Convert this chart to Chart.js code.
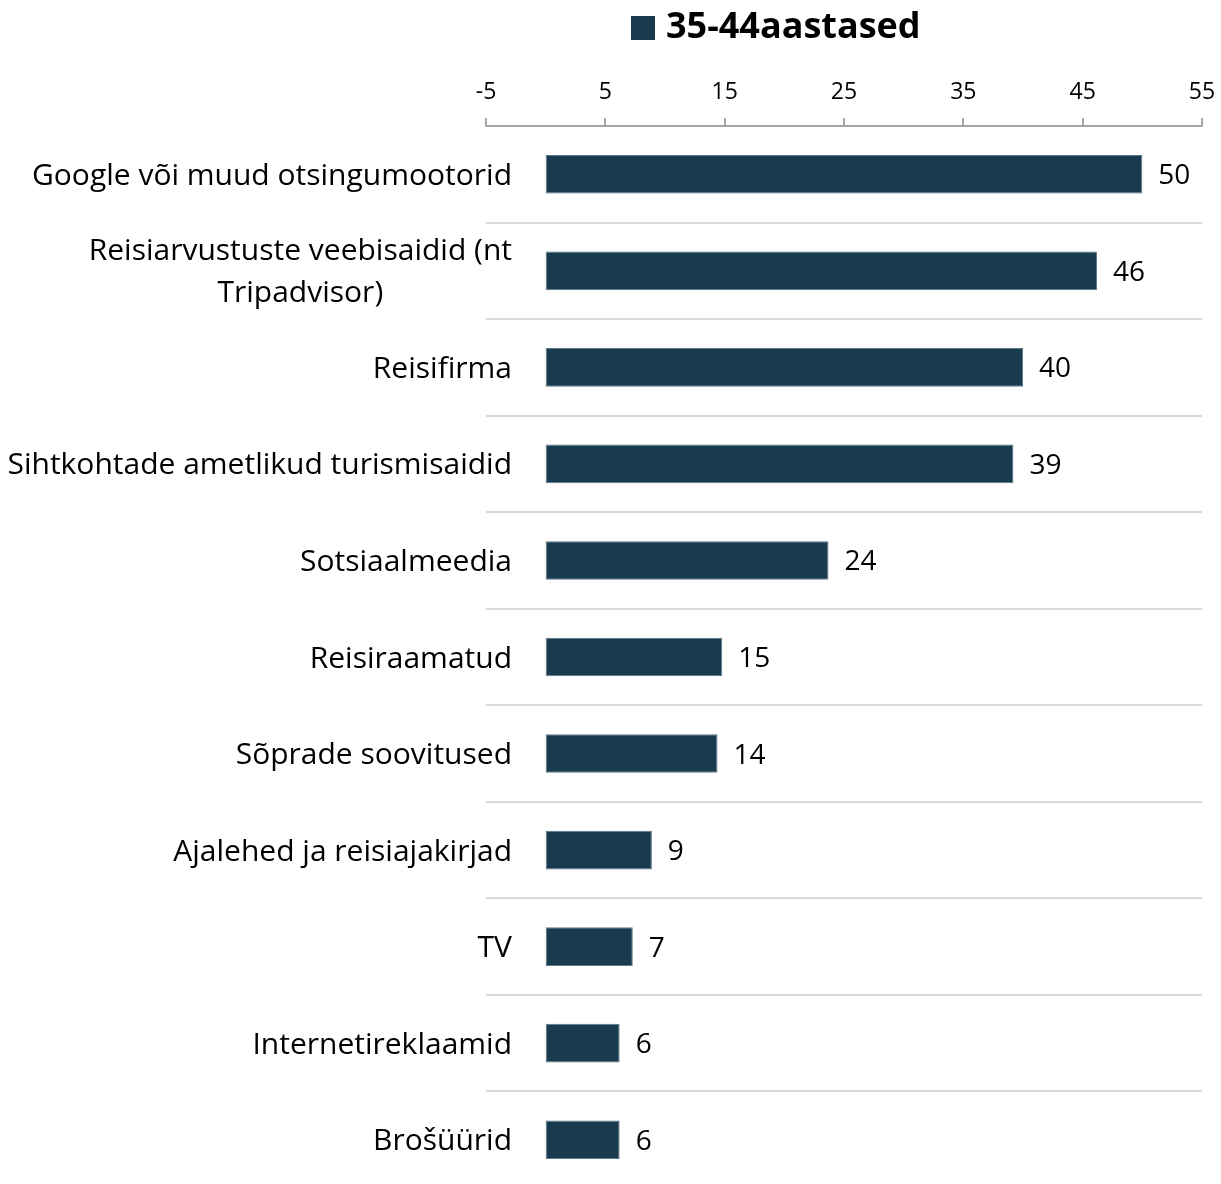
<!DOCTYPE html>
<html>
<head>
<meta charset="utf-8">
<script src="https://cdn.jsdelivr.net/npm/chart.js"></script>
<style>
    html, body { margin: 0; padding: 0; background: #fff; overflow: hidden; }
    #wrap { width: 1221px; height: 1188px; position: relative; }
</style>
</head>
<body>
<div id="wrap"><canvas id="chart"></canvas></div>
<script>
    const CATEGORIES = [
        "Google või muud otsingumootorid",
        ["Reisiarvustuste veebisaidid (nt", "Tripadvisor)"],
        "Reisifirma",
        "Sihtkohtade ametlikud turismisaidid",
        "Sotsiaalmeedia",
        "Reisiraamatud",
        "Sõprade soovitused",
        "Ajalehed ja reisiajakirjad",
        "TV",
        "Internetireklaamid",
        "Brošüürid"
    ];
    const SERIES_LABEL = "35-44aastased";
    const VALUES = [50, 46.2, 40, 39.2, 23.7, 14.8, 14.4, 8.9, 7.3, 6.2, 6.2];
    const X_TICKS = [-5, 5, 15, 25, 35, 45, 55];

    const BAR_COLOR = "#183b4f";
    const FONT = "'Open Sans', 'Noto Sans', sans-serif";

    // category names, right aligned block, lines centred inside the block
    const categoryLabels = {
        id: "categoryLabels",
        afterDraw(chart) {
            const ctx = chart.ctx;
            const y = chart.scales.y;
            const right = chart.chartArea.left + 26;
            ctx.save();
            ctx.font = "30px " + FONT;
            ctx.fillStyle = "#000";
            ctx.textBaseline = "middle";
            ctx.textAlign = "center";
            CATEGORIES.forEach((lab, i) => {
                const lines = Array.isArray(lab) ? lab : [lab];
                const w = Math.max(...lines.map(l => ctx.measureText(l).width));
                const cy = y.getPixelForTick(i) + 2;
                const lh = 42;
                lines.forEach((l, k) => {
                    ctx.fillText(l, right - w / 2, cy + (k - (lines.length - 1) / 2) * lh);
                });
            });
            ctx.restore();
        }
    };

    const valueLabels = {
        id: "valueLabels",
        afterDatasetsDraw(chart) {
            const ctx = chart.ctx;
            const meta = chart.getDatasetMeta(0);
            ctx.save();
            ctx.font = "28px " + FONT;
            ctx.fillStyle = "#000";
            ctx.textBaseline = "middle";
            ctx.textAlign = "left";
            meta.data.forEach((bar, i) => {
                ctx.fillText(String(Math.round(VALUES[i])), bar.x + 16, bar.y + 2);
            });
            ctx.restore();
        }
    };

    const topLegend = {
        id: "topLegend",
        afterDraw(chart) {
            const ctx = chart.ctx;
            ctx.save();
            ctx.fillStyle = BAR_COLOR;
            ctx.fillRect(631, 16, 24, 24);
            ctx.font = "bold 36px " + FONT;
            ctx.fillStyle = "#000";
            ctx.textBaseline = "middle";
            ctx.fillText(chart.data.datasets[0].label, 666, 28);
            ctx.restore();
        }
    };

    new Chart(document.getElementById("chart"), {
        type: "bar",
        data: {
            labels: CATEGORIES,
            datasets: [{
                label: SERIES_LABEL,
                data: VALUES,
                backgroundColor: BAR_COLOR,
                borderColor: "#5d7889",
                borderWidth: 1,
                borderSkipped: false,
                barPercentage: 0.4,
                categoryPercentage: 1
            }]
        },
        options: {
            indexAxis: "y",
            responsive: true,
            maintainAspectRatio: false,
            animation: false,
            layout: { padding: { top: 60, right: 19, bottom: 0, left: 0 } },
            plugins: {
                legend: { display: false },
                tooltip: { enabled: false }
            },
            scales: {
                x: {
                    position: "top",
                    min: -5,
                    max: 55,
                    afterBuildTicks: s => { s.ticks = X_TICKS.map(v => ({ value: v })); },
                    afterFit: s => { s.height = 66; s.paddingRight = 12; },
                    grid: {
                        drawOnChartArea: false,
                        drawTicks: true,
                        tickLength: 8,
                        color: "#a6a6a6",
                        lineWidth: 2
                    },
                    border: { display: true, color: "#a6a6a6", width: 2 },
                    ticks: {
                        padding: 12,
                        color: "#000",
                        font: { family: FONT, size: 23 }
                    }
                },
                y: {
                    afterFit: s => { s.width = 486; },
                    ticks: { display: false },
                    border: { display: false },
                    grid: {
                        offset: true,
                        drawTicks: false,
                        lineWidth: 2,
                        color: c => (c.index === 0 ? "rgba(0,0,0,0)" : "#d9d9d9")
                    }
                }
            }
        },
        plugins: [categoryLabels, valueLabels, topLegend]
    });
</script>
</body>
</html>
